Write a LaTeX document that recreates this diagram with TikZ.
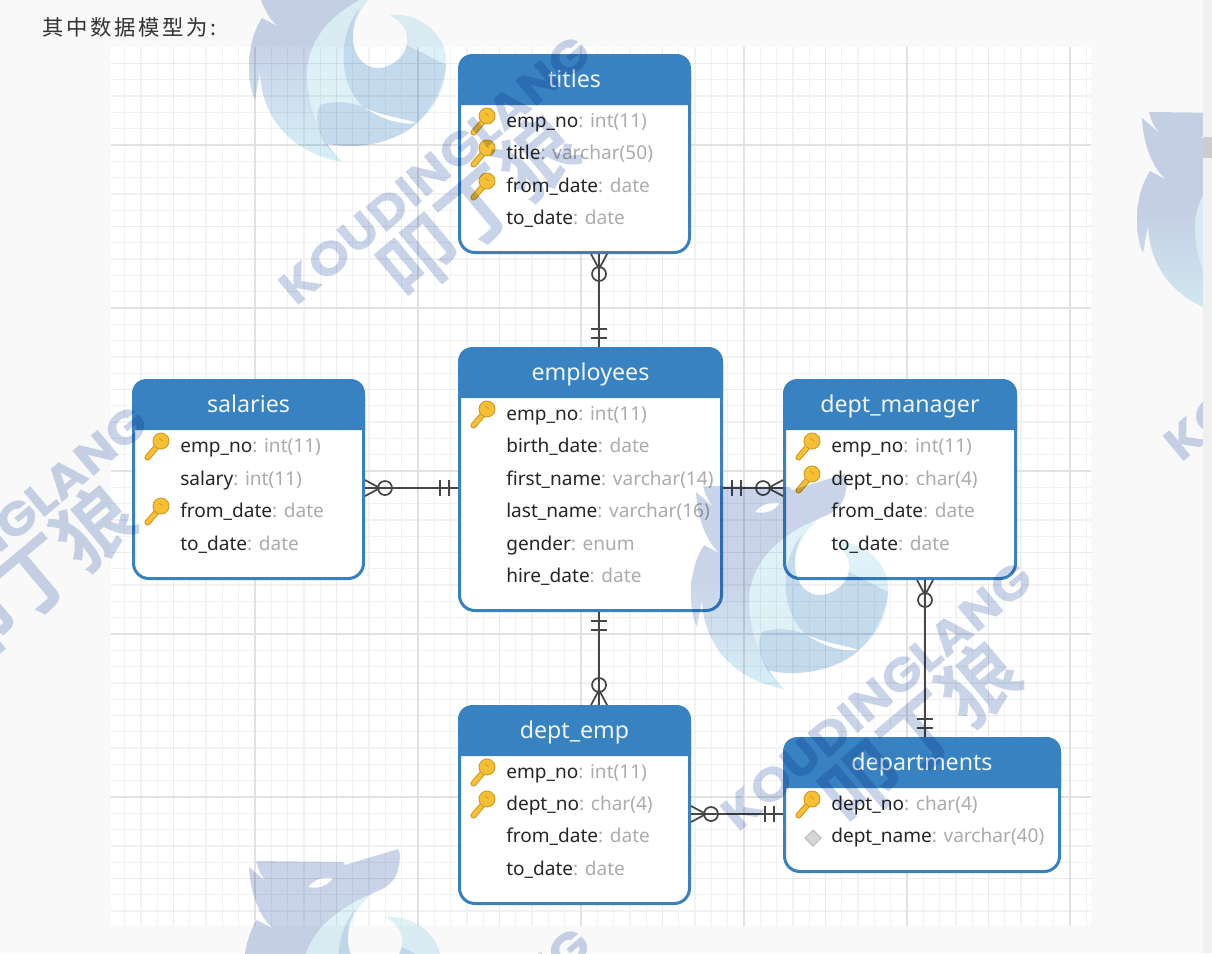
\documentclass[tikz,border=0pt]{standalone}
\usepackage{fontspec}
\setmainfont{Noto Sans}
\newfontfamily\headcjk[LetterSpace=13]{Noto Sans CJK SC}
\newfontfamily\markcjk{Noto Sans CJK SC Bold}
\newfontfamily\marklatin[FakeStretch=1.12]{Poppins}
\definecolor{pagebg}{RGB}{249,249,249}
\definecolor{gridminor}{RGB}{242,242,242}
\definecolor{gridmed}{RGB}{234,234,234}
\definecolor{gridmajor}{RGB}{226,226,226}
\definecolor{tblue}{RGB}{56,130,193}
\definecolor{fieldc}{RGB}{38,38,38}
\definecolor{typec}{RGB}{172,172,172}
\definecolor{linkc}{RGB}{70,70,70}
\definecolor{keyfill}{RGB}{247,192,52}
\definecolor{keyedge}{RGB}{205,155,40}
\definecolor{wmblue}{RGB}{202,212,233}
\definecolor{wmcyan}{RGB}{214,240,247}
\definecolor{wmtop}{RGB}{222,242,248}
\definecolor{wmarm}{RGB}{226,236,246}
\definecolor{wmtip}{RGB}{222,240,247}
\definecolor{wmover}{RGB}{226,232,245}
\newcommand\ertable[7]{%
  \pgfmathsetmacro\tw{#4-#2-3}\pgfmathsetmacro\th{#5-#3-3}%
  \pgfmathsetmacro\tcx{(#2+#4)/2}\pgfmathsetmacro\tcy{(#3+#5)/2}%
  \pgfmathsetmacro\hcy{(#3+#6)/2+8}%
  \node[tablebox,minimum width=\tw*0.75pt,minimum height=\th*0.75pt] (#1) at (\tcx,\tcy) {};
  \fill[tblue] (#2,#6) -- (#2,#3+15) .. controls (#2,#3+6) and (#2+6,#3) .. (#2+15,#3)
    -- (#4-15,#3) .. controls (#4-6,#3) and (#4,#3+6) .. (#4,#3+15) -- (#4,#6) -- cycle;
  \node[tabletitle] (#1-title) at (\tcx,\hcy) {#7};
}
\newcommand\errow[5]{%
  \pgfmathsetmacro\rx{#2+48}\pgfmathsetmacro\ry{#3+7.2}%
  \node[rowtext] (#1) at (\rx,\ry) {\textcolor{fieldc}{#4}\textcolor{typec}{: #5}};
}
\tikzset{
  x=0.75pt,y=-0.75pt,
  tablebox/.style={draw=tblue,fill=white,line width=2.25pt,rounded corners=11.5pt,inner sep=0pt},
  tabletitle/.style={anchor=base,text=white!92!tblue,font=\fontsize{17.4}{20}\selectfont,inner sep=0pt},
  rowtext/.style={anchor=base west,inner sep=0pt,font=\fontsize{14.3}{17}\selectfont},
  link/.style={draw=linkc,line width=1.3pt},
  crowfoot/.pic={
    \draw[link] (15,0) -- (0,8) (15,0) -- (0,-8);
    \draw[link] (20,0) circle[radius=7];
  },
  onebars/.pic={
    \draw[link] (9,-8) -- (9,8) (18,-8) -- (18,8);
  },
  keyglyph/.pic={
    \draw[keyedge,line width=4.6pt,line cap=round] (15.5,12.5) -- (27,-1);
    \draw[keyfill,line width=3pt,line cap=round] (15.5,12.5) -- (27,-1);
    \fill[keyfill,draw=keyedge,line width=0.7pt] (29,-4) circle[radius=8];
    \draw[keyedge,line width=0.6pt] (27,-7) -- (31,-4);
  },
  plaindiamond/.pic={
    \draw[draw=black!25,fill=black!16,line width=0.8pt] (30,-5) -- (38,3) -- (30,11) -- (22,3) -- cycle;
  },
  wolfmark/.pic={
    \shade[even odd rule,top color=wmblue,bottom color=wmcyan,middle color=wmblue]
      (261,-41) -- (348,-40) -- (350,-37) -- (403,-53) .. controls (406,-50) and (405,-40) .. (403,-32)
      .. controls (400,-20) and (390,-13) .. (378,-9)
      .. controls (320,15) and (305,50) .. (307,80)
      .. controls (310,125) and (330,150) .. (342,162)
      .. controls (300,155) and (262,125) .. (260,73)
      -- (255,100) .. controls (250,90) and (249,78) .. (249,62)
      .. controls (250,45) and (254,30) .. (262,18)
      -- (279,27) .. controls (266,18) and (255,-8) .. (254,-35)
      -- (276,-16) .. controls (268,-22) and (263,-32) .. (261,-41) -- cycle
      (313,-15) .. controls (320,-24) and (330,-25) .. (338,-24) .. controls (332,-15) and (322,-13) .. (313,-15) -- cycle;
    \shade[even odd rule,top color=wmtop,middle color=wmarm,bottom color=wmtip]
      (378,-9) .. controls (320,15) and (305,50) .. (307,80)
      .. controls (310,125) and (330,150) .. (342,162)
      .. controls (335,155) and (330,150) .. (325,143)
      .. controls (360,152) and (400,140) .. (417,123)
      .. controls (440,105) and (447,80) .. (446,60)
      .. controls (446,35) and (420,12) .. (390,15)
      .. controls (403,22) and (408,32) .. (407,42)
      .. controls (405,58) and (390,68) .. (378,68)
      .. controls (360,68) and (352,50) .. (353,35)
      .. controls (353,20) and (365,0) .. (378,-9) -- cycle
      (363,107) .. controls (385,122) and (405,125) .. (417,123)
      .. controls (400,118) and (380,115) .. (363,107) -- cycle;
    \fill[wmover] (360,8) .. controls (340,30) and (335,80) .. (363,107)
      .. controls (385,117) and (405,118) .. (417,123)
      .. controls (435,105) and (444,85) .. (446,65) -- (407,45)
      .. controls (405,58) and (390,68) .. (378,68)
      .. controls (360,68) and (352,50) .. (353,35)
      .. controls (353,22) and (358,12) .. (360,8) -- cycle
      (363,107) .. controls (385,122) and (405,125) .. (417,123)
      .. controls (400,140) and (360,152) .. (325,143)
      .. controls (318,130) and (314,118) .. (320,105)
      .. controls (335,100) and (350,102) .. (363,107) -- cycle;
  },
  textmark/.pic={
    \node[text=wmblue,rotate=40,inner sep=0pt,font=\marklatin\bfseries\fontsize{35}{40}\selectfont] at (435,170) {KOUDINGLANG};
    \node[text=wmblue,rotate=40,inner sep=0pt,font=\markcjk\fontsize{58}{62}\selectfont] at (478,207) {叩丁狼};
  },
}
\begin{document}
\begin{tikzpicture}
\useasboundingbox (0,0) rectangle (1212,953);
\fill[pagebg] (0,0) rectangle (1212,953);
% grid
\fill[white] (111,47) rectangle (1091,926);
\foreach \k in {2,...,61} \draw[gridminor,line width=1pt] ({92+16.3*\k},47) -- ({92+16.3*\k},926);
\foreach \k in {-5,...,47} \draw[gridminor,line width=1pt] (111,{145+16.3*\k}) -- (1091,{145+16.3*\k});
\foreach \k in {5,15,...,55} \draw[gridmed,line width=1pt] ({92+16.3*\k},47) -- ({92+16.3*\k},926);
\foreach \k in {-5,5,15,25,35,45} \draw[gridmed,line width=1pt] (111,{145+16.3*\k}) -- (1091,{145+16.3*\k});
\foreach \k in {10,20,...,60} \draw[gridmajor,line width=1.1pt] ({92+16.3*\k},47) -- ({92+16.3*\k},926);
\foreach \k in {0,10,20,30,40} \draw[gridmajor,line width=1.1pt] (111,{145+16.3*\k}) -- (1091,{145+16.3*\k});
\node[anchor=base west,inner sep=0pt,text=black!80,font=\headcjk\fontsize{16}{18}\selectfont] (heading) at (42,36) {其中数据模型为:};
% tables
\ertable{titles}{458}{54}{691}{254}{105}{titles}
\ertable{employees}{458}{347}{723}{612}{398}{employees}
\ertable{salaries}{132}{379}{365}{580}{430}{salaries}
\ertable{deptmanager}{783}{379}{1017}{580}{430}{dept\_manager}
\ertable{deptemp}{458}{705}{691}{905}{756}{dept\_emp}
\ertable{departments}{783}{737}{1061}{873}{788}{departments}
% connectors
\draw[link] ([xshift=18.4pt]titles.south) -- ([xshift=6.4pt]employees.north);
\pic[rotate=-90] at ([xshift=18.4pt]titles.south) {crowfoot};
\pic[rotate=90] at ([xshift=6.4pt]employees.north) {onebars};
\draw[link] ([yshift=-6.4pt]salaries.east) -- ([yshift=-6.4pt]employees.west);
\pic at ([yshift=-6.4pt]salaries.east) {crowfoot};
\pic[rotate=180] at ([yshift=-6.4pt]employees.west) {onebars};
\draw[link] ([yshift=-6.4pt]employees.east) -- ([yshift=-6.4pt]deptmanager.west);
\pic at ([yshift=-6.4pt]employees.east) {onebars};
\pic[rotate=180] at ([yshift=-6.4pt]deptmanager.west) {crowfoot};
\draw[link] ([xshift=6.4pt]employees.south) -- ([xshift=18.4pt]deptemp.north);
\pic[rotate=-90] at ([xshift=6.4pt]employees.south) {onebars};
\pic[rotate=90] at ([xshift=18.4pt]deptemp.north) {crowfoot};
\draw[link] ([yshift=-6.75pt]deptemp.east) -- ([yshift=-6.75pt]departments.west);
\pic at ([yshift=-6.75pt]deptemp.east) {crowfoot};
\pic[rotate=180] at ([yshift=-6.75pt]departments.west) {onebars};
\draw[link] ([xshift=18.75pt]deptmanager.south) -- ([xshift=2.25pt]departments.north);
\pic[rotate=-90] at ([xshift=18.75pt]deptmanager.south) {crowfoot};
\pic[rotate=90] at ([xshift=2.25pt]departments.north) {onebars};
% rows: titles
\pic at (458,120) {keyglyph}; \errow{t1}{458}{120}{emp\_no}{int(11)}
\pic at (458,152) {keyglyph}; \errow{t2}{458}{152}{title}{varchar(50)}
\pic at (458,185) {keyglyph}; \errow{t3}{458}{185}{from\_date}{date}
\errow{t4}{458}{217}{to\_date}{date}
% employees
\pic at (458,413) {keyglyph}; \errow{e1}{458}{413}{emp\_no}{int(11)}
\errow{e2}{458}{445}{birth\_date}{date}
\errow{e3}{458}{478}{first\_name}{varchar(14)}
\errow{e4}{458}{510}{last\_name}{varchar(16)}
\errow{e5}{458}{543}{gender}{enum}
\errow{e6}{458}{575}{hire\_date}{date}
% salaries
\pic at (132,445) {keyglyph}; \errow{s1}{132}{445}{emp\_no}{int(11)}
\errow{s2}{132}{478}{salary}{int(11)}
\pic at (132,510) {keyglyph}; \errow{s3}{132}{510}{from\_date}{date}
\errow{s4}{132}{543}{to\_date}{date}
% dept_manager
\pic at (783,445) {keyglyph}; \errow{m1}{783}{445}{emp\_no}{int(11)}
\pic at (783,478) {keyglyph}; \errow{m2}{783}{478}{dept\_no}{char(4)}
\errow{m3}{783}{510}{from\_date}{date}
\errow{m4}{783}{543}{to\_date}{date}
% dept_emp
\pic at (458,771) {keyglyph}; \errow{d1}{458}{771}{emp\_no}{int(11)}
\pic at (458,803) {keyglyph}; \errow{d2}{458}{803}{dept\_no}{char(4)}
\errow{d3}{458}{835}{from\_date}{date}
\errow{d4}{458}{868}{to\_date}{date}
% departments
\pic at (783,803) {keyglyph}; \errow{p1}{783}{803}{dept\_no}{char(4)}
\pic at (783,835) {plaindiamond}; \errow{p2}{783}{835}{dept\_name}{varchar(40)}
% watermark
\begin{scope}[blend mode=multiply]
\clip (0,0) rectangle (1203,953);
\pic at (0,0) {wolfmark};
\pic at (442,527) {wolfmark};
\pic at (-5,902) {wolfmark};
\pic at (888,153) {wolfmark};
\pic at (0,0) {textmark};
\pic at (442,526) {textmark};
\pic at (-443,370) {textmark};
\pic at (885,156) {textmark};
\pic at (0,892) {textmark};
\end{scope}
% scrollbar
\fill[black!6] (1203,0) rectangle (1212,953);
\fill[black!20] (1203,137) rectangle (1212,158);
\end{tikzpicture}
\end{document}
